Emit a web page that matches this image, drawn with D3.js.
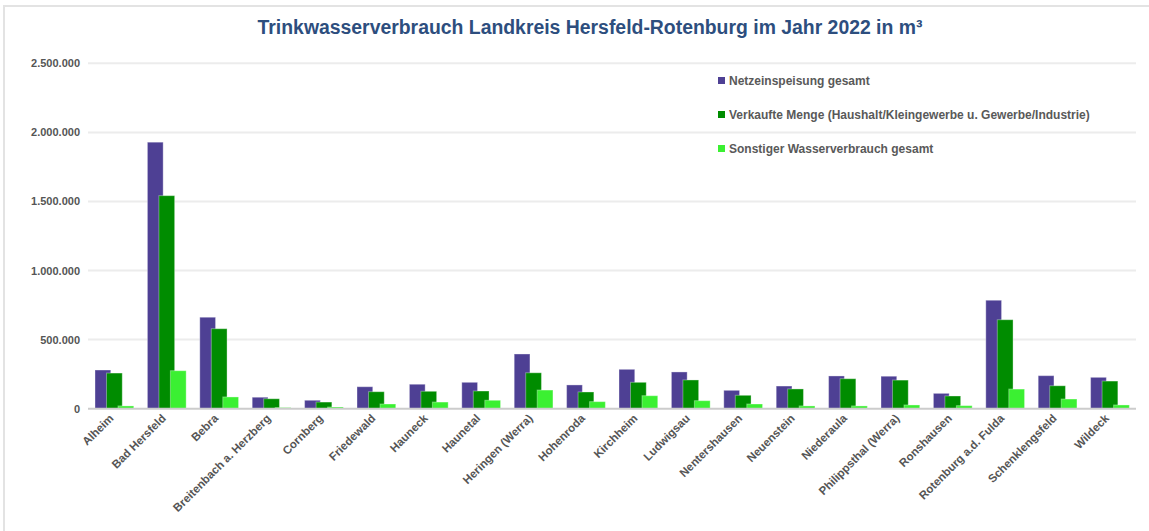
<!DOCTYPE html>
<html>
<head>
<meta charset="utf-8">
<script src="https://cdn.jsdelivr.net/npm/d3@7"></script>
<style>
body { margin: 0; background: #fff; }
svg text { font-family: "Liberation Sans", Arial, sans-serif; font-weight: bold; }
</style>
</head>
<body>
<div id="div_svg"></div>
<script>
// Gemeinden
var gemeinden = ["Alheim", "Bad Hersfeld", "Bebra", "Breitenbach a. Herzberg", "Cornberg",
	"Friedewald", "Hauneck", "Haunetal", "Heringen (Werra)", "Hohenroda", "Kirchheim",
	"Ludwigsau", "Nentershausen", "Neuenstein", "Niederaula", "Philippsthal (Werra)",
	"Ronshausen", "Rotenburg a.d. Fulda", "Schenklengsfeld", "Wildeck"];

var serien = ["Netzeinspeisung gesamt",
	"Verkaufte Menge (Haushalt/Kleingewerbe u. Gewerbe/Industrie)",
	"Sonstiger Wasserverbrauch gesamt"];

var netzeinspeisung = [280000, 1929000, 662000, 83000, 61000, 159000, 177000, 191000, 396000, 172000,
	285000, 266000, 133000, 164000, 237000, 235000, 111000, 785000, 239000, 227000];
var verkauft = [258000, 1542000, 579000, 72000, 48000, 123000, 126000, 128000, 260000, 121000,
	191000, 208000, 97000, 143000, 217000, 207000, 92000, 644000, 166000, 200000];
var sonstiger = [20000, 275000, 85000, 8000, 12000, 34000, 48000, 61000, 135000, 51000,
	94000, 58000, 34000, 20000, 20000, 27000, 22000, 142000, 70000, 27000];

var yTicks = [0, 500000, 1000000, 1500000, 2000000, 2500000];
var farben = ["#4e4094", "#008c00", "#3bf032"];

var werte = [netzeinspeisung, verkauft, sonstiger];

var svg = d3.select("#div_svg").append("svg").attr("id", "svg")
	.attr("width", 1149).attr("height", 531);

// Rahmen
svg.append("rect").attr("x", 4).attr("y", 6).attr("width", 1160).attr("height", 540)
	.style("fill", "none").style("stroke", "#e3e3e3").style("stroke-width", 2);

svg.append("text").attr("x", 590).attr("y", 34).attr("text-anchor", "middle")
	.style("font-size", "19.4px").style("fill", "#2d4e7e")
	.text("Trinkwasserverbrauch Landkreis Hersfeld-Rotenburg im Jahr 2022 in m³");

var x = d3.scaleBand().domain(gemeinden).range([88, 1136]).padding(0);
var xs = d3.scaleBand().domain(serien).range([7, 41.5]).padding(0);
var y = d3.scaleLinear().domain([0, 2500000]).range([408.7, 63.3]);

var fmt = function (d) { return d3.format(",")(d).replace(/,/g, "."); };

// Gitterlinien
svg.append("g").selectAll("line").data(yTicks.slice(1)).enter().append("line")
	.attr("x1", 88).attr("x2", 1136)
	.attr("y1", function (d) { return y(d); }).attr("y2", function (d) { return y(d); })
	.style("stroke", "#ececec").style("stroke-width", 2);

svg.append("g").selectAll("text").data(yTicks).enter().append("text")
	.attr("x", 80).attr("y", function (d) { return y(d) + 4; })
	.attr("text-anchor", "end").style("font-size", "11px").style("fill", "#555")
	.text(fmt);

// Balken
serien.forEach(function (s, i) {
	svg.append("g").selectAll("rect").data(gemeinden).enter().append("rect")
		.attr("x", function (g) { return x(g) + xs(s); })
		.attr("width", xs.bandwidth() * 1.37)
		.attr("y", function (g, j) { return y(werte[i][j]); })
		.attr("height", function (g, j) { return y(0) - y(werte[i][j]); })
		.style("fill", farben[i])
		.style("stroke", "rgba(255,255,255,0.35)").style("stroke-width", 1);
});

// Grundlinie
svg.append("line").attr("x1", 88).attr("x2", 1136).attr("y1", y(0)).attr("y2", y(0))
	.style("stroke", "#cccccc").style("stroke-width", 2);

// Kategorien
svg.append("g").selectAll("text").data(gemeinden).enter().append("text")
	.attr("transform", function (g) {
		return "translate(" + (x(g) + x.bandwidth() / 2) + ",419) rotate(-45)";
	})
	.attr("text-anchor", "end").style("font-size", "11.5px").style("fill", "#555")
	.text(function (g) { return g; });

// Legende
var legende = svg.append("g");
serien.forEach(function (s, i) {
	legende.append("rect").attr("x", 718).attr("y", 77 + i * 34).attr("width", 7).attr("height", 7)
		.style("fill", farben[i]);
	legende.append("text").attr("x", 729).attr("y", 85 + i * 34)
		.style("font-size", "12px").style("fill", "#595959").text(s);
});
</script>
</body>
</html>
